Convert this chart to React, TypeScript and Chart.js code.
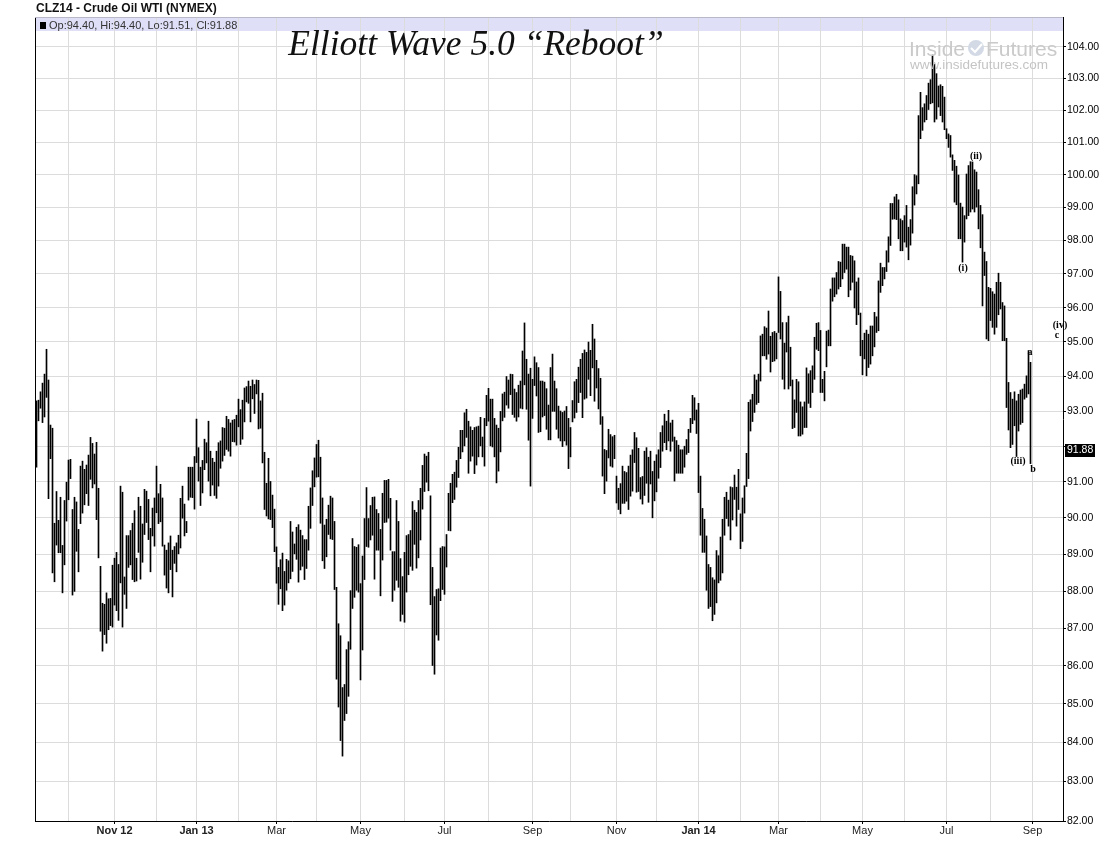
import React, { useEffect, useRef } from 'react';
import { Chart, registerables } from 'chart.js';

Chart.register(...registerables);

const chartTitle = 'CLZ14 - Crude Oil WTI (NYMEX)';
const quoteText = 'Op:94.40, Hi:94.40, Lo:91.51, Cl:91.88';
const headline = 'Elliott Wave 5.0 \u201CReboot\u201D';
const lastClose = 91.88;

// daily highs (trading-day index 0 .. 497)
const highs = [
  93.29, 93.31, 93.55, 93.80, 94.06, 94.78, 93.89, 92.60, 92.51, 89.85,
  90.73, 89.93, 90.57, 89.24, 90.48, 90.99, 91.61, 91.63, 90.23, 90.57,
  90.44, 89.68, 91.44, 91.58, 91.35, 91.47, 91.75, 92.25, 92.08, 91.78,
  92.11, 90.82, 88.67, 87.67, 87.64, 87.95, 87.79, 87.80, 88.70, 88.89,
  89.05, 88.72, 90.88, 90.71, 88.38, 89.51, 89.51, 89.65, 89.85, 90.20,
  88.89, 90.57, 90.32, 89.83, 90.79, 90.74, 90.51, 89.71, 90.27, 90.55,
  91.44, 90.67, 90.93, 90.55, 89.25, 89.11, 89.31, 89.50, 89.11, 89.21,
  89.31, 89.52, 90.54, 90.88, 90.38, 89.90, 91.41, 91.41, 91.41, 91.71,
  92.77, 91.96, 91.41, 91.60, 92.20, 92.10, 92.71, 91.86, 91.66, 91.55,
  91.86, 92.10, 92.15, 92.53, 92.51, 92.85, 92.76, 92.66, 92.74, 92.76,
  92.88, 93.34, 93.04, 93.31, 93.66, 93.70, 93.86, 93.71, 93.89, 93.76,
  93.89, 93.88, 93.29, 93.51, 91.83, 90.96, 91.66, 91.01, 90.63, 90.24,
  89.20, 88.64, 88.85, 89.03, 88.53, 88.86, 88.82, 89.90, 89.61, 89.28,
  89.74, 89.81, 89.66, 89.51, 89.40, 89.40, 90.32, 90.83, 91.31, 91.67,
  92.05, 92.17, 91.69, 90.55, 89.80, 89.96, 90.35, 90.60, 90.55, 89.90,
  88.10, 87.12, 86.80, 85.43, 85.51, 86.43, 86.64, 88.01, 89.43, 89.21,
  89.19, 89.26, 88.20, 88.95, 89.98, 90.84, 89.98, 90.34, 90.57, 90.58,
  90.23, 90.12, 89.68, 90.68, 91.04, 91.04, 91.07, 90.54, 89.07, 89.07,
  90.48, 89.90, 88.88, 88.39, 89.05, 89.51, 89.54, 89.65, 90.45, 90.21,
  90.15, 90.48, 90.82, 91.46, 91.78, 91.72, 91.83, 90.61, 88.64, 87.85,
  88.04, 88.06, 89.17, 89.21, 89.20, 89.54, 90.68, 90.96, 91.21, 91.27,
  91.60, 91.97, 92.45, 92.45, 92.95, 93.05, 92.71, 92.55, 92.45, 92.53,
  92.55, 92.57, 92.82, 92.26, 92.79, 93.45, 93.65, 93.34, 93.34, 92.79,
  92.60, 92.51, 92.99, 93.49, 93.54, 93.99, 93.89, 94.06, 94.05, 93.63,
  93.53, 93.74, 93.86, 94.73, 95.55, 94.49, 94.06, 94.23, 93.91, 94.56,
  94.39, 94.25, 93.86, 93.86, 93.83, 93.64, 93.17, 94.25, 94.64, 93.86,
  93.64, 93.14, 93.00, 92.96, 93.00, 93.13, 92.79, 92.53, 93.30, 93.84,
  93.91, 94.26, 94.49, 94.66, 94.76, 94.69, 94.99, 94.75, 95.51, 95.08,
  94.46, 94.22, 93.94, 92.84, 91.91, 91.88, 92.48, 92.33, 92.27, 92.31,
  91.16, 90.82, 90.95, 91.44, 91.29, 91.26, 91.44, 91.75, 91.90, 92.39,
  92.24, 91.94, 91.12, 91.15, 91.86, 91.96, 91.69, 91.86, 91.29, 91.58,
  91.76, 91.90, 92.39, 92.58, 92.91, 92.71, 93.02, 92.66, 92.74, 92.26,
  92.16, 92.03, 91.90, 91.90, 92.00, 92.19, 92.48, 92.79, 93.45, 93.38,
  93.03, 93.22, 91.16, 90.26, 89.96, 89.50, 88.72, 88.64, 88.36, 88.30,
  89.10, 88.96, 89.47, 89.96, 90.57, 90.71, 90.49, 90.86, 90.84, 91.19,
  90.85, 91.35, 90.11, 90.55, 90.89, 91.80, 93.25, 93.32, 93.48, 94.04,
  93.89, 94.06, 95.17, 95.22, 95.44, 95.40, 95.90, 95.16, 95.27, 95.30,
  95.25, 96.91, 96.48, 95.56, 94.96, 95.56, 95.75, 94.84, 93.89, 93.32,
  93.91, 93.84, 93.26, 93.12, 93.26, 94.24, 94.07, 94.16, 94.30, 95.13,
  95.54, 95.56, 95.33, 93.91, 94.14, 95.31, 95.34, 96.55, 96.88, 96.88,
  97.04, 97.37, 97.35, 97.89, 97.89, 97.80, 97.80, 97.55, 97.53, 97.39,
  96.76, 96.88, 95.84, 95.04, 95.25, 95.34, 95.22, 95.46, 95.46, 95.86,
  95.73, 96.79, 97.32, 97.19, 97.19, 97.69, 98.11, 99.12, 99.12, 99.32,
  99.40, 99.23,
  98.65, 98.60, 98.75, 99.06, 98.40, 98.63, 99.63, 100.00,
  99.97, 101.83, 102.56, 102.08, 102.20, 102.46, 102.85, 102.96, 103.74, 103.45,
  103.15, 102.76, 102.80, 102.75, 102.41, 101.42, 101.26, 101.21, 100.61, 100.44,
  100.26, 99.99, 99.13, 99.01, 98.75, 100.02, 100.28, 100.40, 100.39, 100.15,
  100.08, 99.54, 99.06, 98.78, 97.65, 97.37, 96.60, 96.57, 96.47, 96.40,
  96.75, 97.02, 96.75, 96.15, 96.05, 95.10, 93.82, 93.53, 93.34, 93.55,
  93.29, 93.48, 93.60, 93.63, 93.77, 94.01, 94.74, 94.40,
];

// daily lows (same index)
const lows = [
  91.41, 92.72, 93.08, 92.67, 92.83, 93.39, 90.53, 91.65, 88.49, 88.25,
  89.25, 89.04, 89.04, 87.95, 88.71, 89.91, 90.50, 91.09, 87.89, 87.99,
  89.08, 88.52, 89.84, 90.13, 90.36, 90.67, 90.34, 91.07, 90.83, 90.94,
  89.95, 88.90, 86.92, 86.39, 86.83, 86.60, 86.96, 87.07, 87.03, 87.62,
  87.47, 87.21, 88.22, 87.03, 87.91, 87.53, 88.64, 88.71, 88.31, 88.25,
  88.27, 89.05, 88.32, 88.78, 89.54, 89.87, 89.40, 88.52, 89.50, 89.22,
  90.14, 89.84, 89.89, 89.22, 88.43, 88.08, 87.95, 88.58, 87.84, 88.75,
  88.52, 89.01, 89.17, 89.99, 89.50, 89.59, 90.49, 90.57, 90.56, 90.24,
  91.54, 91.02, 90.34, 90.69, 91.34, 91.53, 91.02, 90.61, 90.91, 90.62,
  90.54, 90.88, 91.38, 91.58, 91.74, 91.91, 91.86, 91.72, 92.13, 92.12,
  92.03, 92.55, 92.05, 92.20, 92.69, 93.26, 93.22, 92.69, 93.35, 92.93,
  93.49, 92.49, 92.51, 91.53, 90.23, 90.05, 89.97, 89.95, 89.73, 89.07,
  88.21, 87.64, 88.06, 87.47, 87.62, 88.02, 88.22, 88.33, 88.53, 89.01,
  88.86, 88.24, 88.57, 88.67, 88.31, 88.61, 89.11, 89.71, 90.34, 90.86,
  91.13, 91.14, 89.85, 88.82, 88.61, 88.93, 89.54, 89.42, 89.40, 88.04,
  85.65, 84.92, 84.05, 83.65, 84.57, 84.75, 85.20, 86.44, 87.53, 87.83,
  88.02, 87.97, 85.63, 86.42, 88.31, 89.21, 89.19, 89.39, 89.52, 88.32,
  89.11, 89.11, 87.87, 88.84, 89.87, 89.88, 89.99, 89.11, 87.72, 88.02,
  88.29, 88.10, 87.19, 87.37, 87.16, 87.97, 88.44, 88.67, 88.56, 89.27,
  88.62, 88.90, 89.39, 90.24, 90.73, 90.99, 90.75, 87.63, 86.01, 85.78,
  86.82, 86.68, 87.74, 88.04, 87.91, 88.65, 89.65, 89.64, 90.42, 90.51,
  90.85, 91.12, 91.65, 91.84, 92.01, 92.25, 91.24, 91.58, 91.72, 91.23,
  91.47, 91.70, 92.01, 91.70, 91.44, 92.58, 92.71, 92.01, 91.98, 91.70,
  90.97, 91.30, 91.84, 92.72, 92.82, 93.17, 93.08, 93.47, 92.90, 92.82,
  92.71, 92.83, 93.08, 93.06, 93.75, 93.05, 92.17, 90.88, 92.79, 93.73,
  93.43, 92.39, 92.41, 92.83, 92.87, 92.48, 92.18, 92.18, 92.99, 92.99,
  92.48, 92.23, 92.15, 91.99, 92.15, 92.03, 91.37, 91.70, 92.69, 92.80,
  92.96, 93.24, 93.53, 92.81, 93.34, 93.37, 93.91, 93.44, 94.24, 93.28,
  93.66, 93.06, 92.62, 91.16, 90.67, 91.02, 91.67, 91.44, 91.41, 91.65,
  90.41, 90.23, 90.11, 90.40, 90.40, 90.46, 90.23, 90.60, 90.74, 91.54,
  90.71, 90.73, 90.52, 90.38, 90.62, 90.96, 90.43, 90.94, 90.00, 90.47,
  90.72, 91.10, 91.40, 91.86, 92.10, 91.90, 92.15, 91.86, 92.14, 91.02,
  91.24, 91.24, 91.24, 91.24, 91.41, 91.77, 91.82, 92.39, 92.64, 92.74,
  92.36, 90.70, 89.52, 89.05, 89.05, 88.02, 87.53, 87.58, 87.20, 87.37,
  87.68, 88.22, 88.29, 88.49, 89.52, 89.98, 89.77, 89.39, 89.94, 90.51,
  89.77, 90.23, 89.15, 89.35, 90.13, 90.87, 91.09, 92.43, 92.70, 92.96,
  93.19, 93.24, 93.86, 94.59, 94.59, 94.49, 94.64, 94.12, 94.42, 94.44,
  94.50, 95.27, 95.08, 93.91, 93.63, 94.70, 93.63, 93.72, 92.50, 92.53,
  92.96, 92.29, 92.29, 92.34, 92.53, 92.53, 93.22, 93.10, 93.53, 93.91,
  94.78, 94.74, 93.53, 93.53, 93.29, 94.27, 94.88, 94.88, 96.19, 96.32,
  96.40, 96.55, 96.62, 96.85, 97.04, 97.14, 96.32, 96.52, 96.75, 95.99,
  95.50, 95.79, 94.59, 94.04, 94.50, 94.01, 94.25, 94.35, 94.59, 94.85,
  95.27, 95.32, 96.45, 96.65, 96.85, 97.07, 97.35, 97.85, 98.64, 98.65,
  98.63, 98.05,
  97.69, 97.69, 97.95, 97.80, 97.42, 97.86, 98.22, 99.07,
  99.41, 99.72, 101.11, 101.37, 101.63, 101.70, 102.02, 102.20, 102.23, 101.63,
  101.72, 102.10, 101.83, 101.63, 101.39, 101.11, 100.84, 100.54, 100.13, 99.16,
  99.08, 98.05, 98.05, 97.35, 97.95, 98.65, 98.75, 98.86, 98.95, 98.86,
  99.01, 98.35, 97.78, 96.05, 96.95, 95.08, 95.03, 95.62, 95.42, 95.22,
  95.42, 95.79, 95.96, 95.03, 95.03, 93.10, 92.46, 91.96, 92.05, 92.58,
  91.71, 92.43, 92.62, 92.67, 93.34, 93.39, 93.49, 91.51,
];

// month gridlines (trading-day index) and their labels
const monthTickIndex = [16, 39, 60, 80, 101, 120, 140, 162, 184, 204, 226, 248, 267, 290, 310, 331, 352, 371, 392, 413, 434, 455, 477, 498];
const monthTickLabels = ['', 'Nov 12', '', 'Jan 13', '', 'Mar', '', 'May', '', 'Jul', '', 'Sep', '', 'Nov', '', 'Jan 14', '', 'Mar', '', 'May', '', 'Jul', '', 'Sep'];
const boldMonthLabels = ['Nov 12', 'Jan 13', 'Jan 14'];

// price gridlines
const priceTicks = [82, 83, 84, 85, 86, 87, 88, 89, 90, 91, 92, 93, 94, 95, 96, 97, 98, 99, 100, 101, 102, 103, 104];

// Elliott wave annotations (label, trading-day index, price)
const waveLabels = ['(i)', '(ii)', '(iii)', 'a', 'b', '(iv)', 'c'];
const waveIndex = [463.25, 469.75, 490.75, 496.75, 498.25, 511.75, 510.25];
const wavePrice = [97.15, 100.55, 91.57, 94.70, 91.35, 95.49, 95.19];

const SANS = '"Liberation Sans", Arial, sans-serif';
const SERIF = '"Liberation Serif", "Times New Roman", serif';

const decor = {
  id: 'decor',
  beforeDraw(chart: any) {
    const { ctx, chartArea: a } = chart;
    ctx.save();
    ctx.fillStyle = '#ffffff';
    ctx.fillRect(0, 0, chart.width, chart.height);
    ctx.fillStyle = '#dfe0f8';
    ctx.fillRect(a.left, a.top + 1, a.right - a.left, 13);
    ctx.restore();
  },
  afterDraw(chart: any) {
    const { ctx, chartArea: a, scales } = chart;
    const xs = scales.x;
    const ys = scales.y;
    ctx.save();
    // frame
    ctx.lineWidth = 1;
    ctx.strokeStyle = '#000';
    ctx.beginPath();
    ctx.moveTo(a.left + 0.5, a.top);
    ctx.lineTo(a.left + 0.5, a.bottom);
    ctx.stroke();
    ctx.strokeStyle = '#b8b8c8';
    ctx.beginPath();
    ctx.moveTo(a.left, a.top + 0.5);
    ctx.lineTo(a.right, a.top + 0.5);
    ctx.stroke();

    // chart title
    ctx.textAlign = 'left';
    ctx.textBaseline = 'middle';
    ctx.fillStyle = '#111';
    ctx.font = 'bold 12px ' + SANS;
    ctx.fillText(chartTitle, 36, 9);

    // quote line
    ctx.fillStyle = '#000';
    ctx.fillRect(a.left + 5, a.top + 5, 6, 7);
    ctx.fillStyle = '#333';
    ctx.font = '11px ' + SANS;
    ctx.fillText(quoteText, a.left + 14, a.top + 9);

    // watermark
    ctx.fillStyle = '#cacaca';
    ctx.font = '21px ' + SANS;
    ctx.textBaseline = 'alphabetic';
    ctx.fillText('Inside', 909, 56);
    ctx.fillText('Futures', 986, 56);
    ctx.fillStyle = '#d3dae6';
    ctx.beginPath();
    ctx.arc(976, 48, 8, 0, Math.PI * 2);
    ctx.fill();
    ctx.strokeStyle = '#ffffff';
    ctx.lineWidth = 2;
    ctx.beginPath();
    ctx.moveTo(971, 48);
    ctx.lineTo(975, 52);
    ctx.lineTo(982, 44);
    ctx.stroke();
    ctx.fillStyle = '#c4c4c4';
    ctx.font = '13.5px ' + SANS;
    ctx.fillText('www.insidefutures.com', 910, 69);

    // headline
    ctx.fillStyle = '#111';
    ctx.textAlign = 'center';
    ctx.font = 'italic 35.5px ' + SERIF;
    ctx.fillText(headline, 476, 55);

    // wave labels
    ctx.font = 'bold 10px ' + SERIF;
    ctx.textBaseline = 'middle';
    ctx.fillStyle = '#000';
    for (let k = 0; k < waveLabels.length; k++) {
      ctx.fillText(waveLabels[k], xs.getPixelForValue(waveIndex[k]), ys.getPixelForValue(wavePrice[k]));
    }

    // last price box
    const yc = ys.getPixelForValue(lastClose);
    ctx.fillStyle = '#000';
    ctx.fillRect(a.right + 2, Math.round(yc) - 6, 30, 13);
    ctx.fillStyle = '#fff';
    ctx.textAlign = 'left';
    ctx.font = '10.5px ' + SANS;
    ctx.fillText(lastClose.toFixed(2), a.right + 4, Math.round(yc) + 0.5);
    ctx.restore();
  },
};

export default function App() {
  const ref = useRef<HTMLCanvasElement>(null);
  useEffect(() => {
    const canvas = ref.current;
    if (!canvas) return;
    const bars = highs.map((h, i) => ({ x: i, y: [lows[i], h] }));
    const chart = new Chart(canvas, {
      type: 'bar',
      data: {
        datasets: [
          {
            data: bars as any,
            backgroundColor: '#000',
            borderWidth: 0,
            barThickness: 1,
          },
        ],
      },
      options: {
        responsive: false,
        animation: false,
        devicePixelRatio: 1,
        events: [],
        layout: { padding: { left: 35, top: 17, right: 0, bottom: 0 } },
        plugins: { legend: { display: false }, tooltip: { enabled: false }, title: { display: false } },
        scales: {
          x: {
            type: 'linear',
            min: -0.75,
            max: 513.25,
            bounds: 'data',
            offset: false,
            afterBuildTicks: (scale: any) => {
              scale.ticks = monthTickIndex.map((v) => ({ value: v }));
            },
            afterFit: (scale: any) => {
              scale.height = 40;
            },
            grid: {
              offset: false,
              color: '#dcdcdc',
              lineWidth: 1,
              tickLength: 3,
              tickColor: (ctx: any) => (monthTickLabels[ctx.index] ? '#000' : 'rgba(0,0,0,0)'),
            },
            border: { display: true, color: '#000', width: 1 },
            ticks: {
              autoSkip: false,
              maxRotation: 0,
              padding: 0,
              color: '#222',
              font: (ctx: any) => ({
                family: SANS,
                size: 11,
                weight: boldMonthLabels.includes(monthTickLabels[ctx.index]) ? 'bold' : 'normal',
              }),
              callback: (_v: any, i: number) => monthTickLabels[i] || '',
            },
          },
          y: {
            type: 'logarithmic',
            position: 'right',
            min: 82,
            max: 104.96,
            bounds: 'data',
            afterBuildTicks: (scale: any) => {
              scale.ticks = priceTicks.map((v) => ({ value: v }));
            },
            afterFit: (scale: any) => {
              scale.width = 37;
            },
            grid: { color: '#dcdcdc', lineWidth: 1, tickLength: 3, tickColor: '#000' },
            border: { display: true, color: '#000', width: 1 },
            ticks: {
              autoSkip: false,
              padding: 1,
              color: '#000',
              font: { family: SANS, size: 10.5 },
              callback: (v: any) => (Number(v) === 92 ? '' : Number(v).toFixed(2)),
            },
          },
        },
      } as any,
      plugins: [decor],
    });
    return () => chart.destroy();
  }, []);
  return (
    <div style={{ position: 'absolute', left: 0, top: 0, width: 1100, height: 861, background: '#fff' }}>
      <canvas ref={ref} width={1100} height={861} style={{ display: 'block', width: 1100, height: 861 }} />
    </div>
  );
}
